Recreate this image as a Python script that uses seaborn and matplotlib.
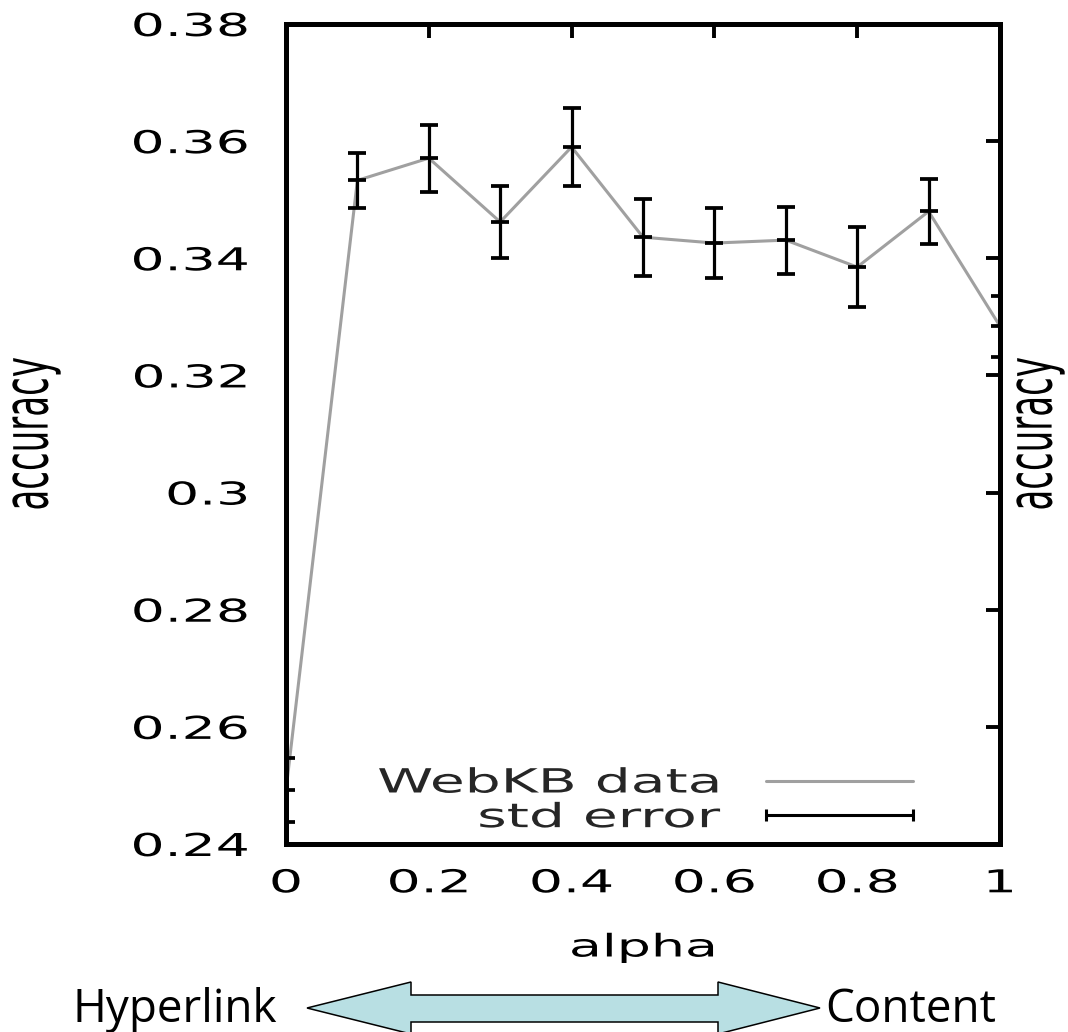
import matplotlib
matplotlib.use("Agg")
import matplotlib.pyplot as plt
import pandas as pd
import seaborn as sns
from matplotlib.patheffects import AbstractPathEffect
from matplotlib.transforms import Affine2D
from matplotlib.lines import Line2D
from matplotlib.patches import Polygon

# ---- data -------------------------------------------------------------
alpha = [0.0, 0.1, 0.2, 0.3, 0.4, 0.5, 0.6, 0.7, 0.8, 0.9, 1.0]
accuracy = [0.2492, 0.3533, 0.3571, 0.3462, 0.3590, 0.3436,
            0.3426, 0.3431, 0.3385, 0.3480, 0.3284]
std_err = [0.0055, 0.0047, 0.0057, 0.0062, 0.0067, 0.0066,
           0.0059, 0.0057, 0.0069, 0.0055, 0.0052]

x_ticks = [0.0, 0.2, 0.4, 0.6, 0.8, 1.0]
x_tick_labels = ["0", "0.2", "0.4", "0.6", "0.8", "1"]
y_ticks = [0.24, 0.26, 0.28, 0.30, 0.32, 0.34, 0.36, 0.38]
y_tick_labels = ["0.24", "0.26", "0.28", "0.3", "0.32", "0.34", "0.36", "0.38"]

series_labels = ["WebKB data", "std error"]
axis_labels = {"x": "alpha", "y": "accuracy"}
range_labels = ["Hyperlink", "Content"]

df = pd.DataFrame({"alpha": alpha, "accuracy": accuracy, "std_err": std_err})


class Stretch(AbstractPathEffect):
    """Draw text glyphs scaled along the text's own x / y direction."""

    def __init__(self, sx=1.0, sy=1.0, anchor="center"):
        super().__init__()
        self.sx, self.sy, self.anchor = sx, sy, anchor

    def draw_path(self, renderer, gc, tpath, affine, rgbFace=None):
        ext = tpath.get_extents()
        if self.anchor == "left":
            cx = ext.x0
        elif self.anchor == "right":
            cx = ext.x1
        else:
            cx = 0.5 * (ext.x0 + ext.x1)
        cy = 0.5 * (ext.y0 + ext.y1)
        t = Affine2D().translate(-cx, -cy).scale(self.sx, self.sy).translate(cx, cy)
        renderer.draw_path(gc, tpath, t + affine, rgbFace)


sns.set_style("white")
plt.rcParams["font.family"] = ["DejaVu Sans"]

W, H = 1068, 1032
fig = plt.figure(figsize=(W / 100, H / 100), dpi=100)
ax = fig.add_axes([286 / W, 1 - 844 / H, 714 / W, 820 / H])

# mean accuracy line
sns.lineplot(data=df, x="alpha", y="accuracy", ax=ax, color="#a0a0a0",
             linewidth=2.2, zorder=2)
# standard-error bars with a short mark at each mean
ax.errorbar(df["alpha"], df["accuracy"], yerr=df["std_err"], fmt="_",
            color="black", ecolor="black", elinewidth=2.3, capsize=6.8,
            capthick=2.7, markersize=13.5, markeredgewidth=2.7, zorder=3)

ax.set_xlim(0, 1)
ax.set_ylim(0.24, 0.38)
ax.set_xticks(x_ticks)
ax.set_xticklabels(x_tick_labels)
ax.set_yticks(y_ticks)
ax.set_yticklabels(y_tick_labels)

for side in ["left", "right", "top", "bottom"]:
    ax.spines[side].set_visible(True)
    ax.spines[side].set_linewidth(3.6)
    ax.spines[side].set_color("black")

ax.tick_params(axis="both", which="major", direction="in", top=True, right=True,
               length=10, width=2.8, color="black", labelsize=22.7,
               labelcolor="black")
ax.tick_params(axis="y", pad=27)
ax.tick_params(axis="x", pad=17.5)

ax.set_xlabel(axis_labels["x"], fontsize=22.5, color="black")
ax.xaxis.label.set_verticalalignment("center")
ax.xaxis.set_label_coords(0.5, (844 - 948) / 820)

ax.set_ylabel(axis_labels["y"], fontsize=24.5, color="black")
ax.yaxis.label.set(ha="center", va="center", rotation_mode="default")
ax.yaxis.set_label_coords((33 - 286) / 714, 0.5)
right_label = ax.text((1037 - 286) / 714, 0.5, axis_labels["y"], rotation=90,
                      ha="center", va="center", fontsize=24.5,
                      transform=ax.transAxes, color="black")

handles = [
    Line2D([], [], color="#a0a0a0", linewidth=2.2),
    Line2D([], [], color="black", linewidth=2.2, marker="|", markersize=9,
           markeredgewidth=2.2),
]
leg = ax.legend(handles, series_labels, loc="lower right",
                bbox_to_anchor=((923 - 286) / 714, 0.012), frameon=False,
                markerfirst=False, fontsize=24, handlelength=5.0,
                handletextpad=1.08, labelspacing=0.05, borderpad=0,
                borderaxespad=0, numpoints=2)

# double-headed arrow between the two extremes of alpha
def fx(px):
    return px / W


def fy(py):
    return 1 - py / H


arrow_pts = [(307, 1008), (411, 982), (411, 995), (718, 995), (718, 982),
             (820, 1008), (718, 1034), (718, 1022), (411, 1022), (411, 1034)]
fig.add_artist(Polygon([(fx(x), fy(y)) for x, y in arrow_pts], closed=True,
                       transform=fig.transFigure, facecolor="#b8dfe3",
                       edgecolor="black", linewidth=1.1))
fig.text(fx(277), fy(1022), range_labels[0], ha="right", va="baseline",
         fontsize=33, family=["Open Sans", "DejaVu Sans"], color="black")
fig.text(fx(825), fy(1022), range_labels[1], ha="left", va="baseline",
         fontsize=33, family=["Open Sans", "DejaVu Sans"], color="black")

# widen the plot lettering
fig.canvas.draw()
for t in ax.get_yticklabels():
    t.set_path_effects([Stretch(sx=1.7, anchor="right")])
for t in ax.get_xticklabels():
    t.set_path_effects([Stretch(sx=1.7, anchor="center")])
ax.xaxis.label.set_path_effects([Stretch(sx=1.72, anchor="center")])
ax.yaxis.label.set_path_effects([Stretch(sy=1.85)])
right_label.set_path_effects([Stretch(sy=1.85)])
for t in leg.get_texts():
    t.set_path_effects([Stretch(sx=1.7, anchor="right")])

fig.savefig("out.png", dpi=100)
